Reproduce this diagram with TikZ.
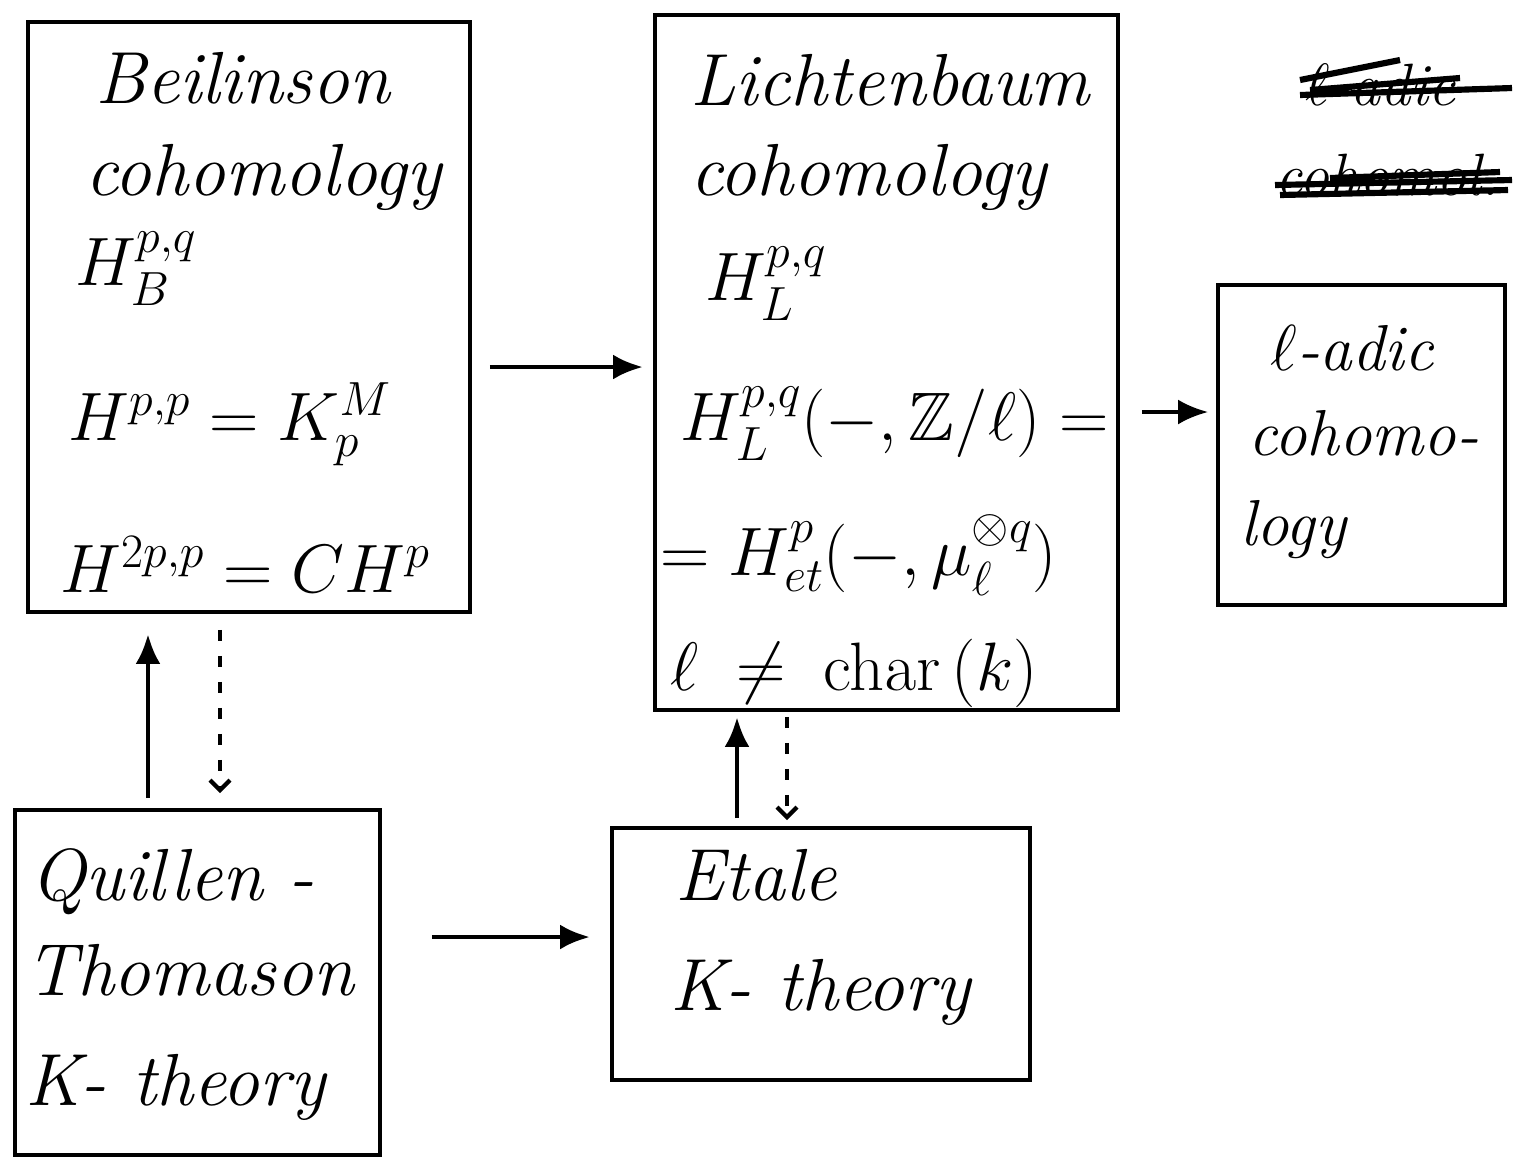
\RequirePackage{fix-cm}
\documentclass[tikz,border=0pt]{standalone}
\usepackage{amssymb}
\usetikzlibrary{fit,arrows.meta}
\newcommand{\hand}{\fontsize{42}{46}\selectfont\itshape}
\newcommand{\handmath}{\fontsize{39}{44}\selectfont}
\newcommand{\handsmall}{\fontsize{37}{42}\selectfont\itshape}
\begin{document}
\begin{tikzpicture}[x=0.02cm,y=-0.02cm,
  box/.style={draw,line width=2.2pt,inner sep=0pt},
  txt/.style={anchor=base west,inner sep=0pt,font=\hand},
  mtxt/.style={anchor=base west,inner sep=0pt,font=\handmath},
  stxt/.style={anchor=base west,inner sep=0pt,font=\handsmall},
  arr/.style={line width=2.8pt,-{Latex[length=0.6cm,width=0.5cm]}},
  darr/.style={line width=2.4pt,dash pattern=on 0.22cm off 0.3cm,-{Straight Barb[length=0.2cm,width=0.4cm]}}]
\useasboundingbox (0,0) rectangle (1520,1161);
% boxes
\node[box,fit={(28,22) (470,612)}] (beil) {};
\node[box,fit={(655,15) (1118,710)}] (lich) {};
\node[box,fit={(1218,285) (1505,605)}] (ladic) {};
\node[box,fit={(15,810) (380,1155)}] (qt) {};
\node[box,fit={(612,828) (1030,1080)}] (etk) {};
% Beilinson
\node[txt] (b1) at (95,103) {Beilinson};
\node[txt] (b2) at (85,195) {cohomology};
\node[mtxt] (b3) at (75,285) {$H^{p,q}_B$};
\node[mtxt] (b4) at (68,440) {$H^{p,p}=K^M_p$};
\node[mtxt] (b5) at (60,592) {$H^{2p,p}=CH^p$};
% Lichtenbaum
\node[txt] (l1) at (690,105) {Lichtenbaum};
\node[txt] (l2) at (690,195) {cohomology};
\node[mtxt] (l3) at (705,300) {$H^{p,q}_L$};
\node[mtxt] (l4) at (680,440) {$H^{p,q}_L(-,\mathbb{Z}/\ell)=$};
\node[mtxt] (l5) at (660,575) {$=H^p_{et}(-,\mu_\ell^{\otimes q})$};
\node[mtxt] (l6) at (670,690) {$\ell\;\neq\;\mathrm{char}\,(k)$};
% l-adic
\node[stxt] (a1) at (1270,370) {$\ell$-adic};
\node[stxt] (a2) at (1248,455) {cohomo-};
\node[stxt] (a3) at (1240,545) {logy};
% crossed out
\node[stxt,font=\fontsize{34}{40}\selectfont\itshape] (c1) at (1305,105) {$\ell$-adic};
\node[stxt,font=\fontsize{34}{40}\selectfont\itshape] (c2) at (1275,195) {cohomol.};
\draw[line width=3.5pt] (1300,95) -- (1512,88) (1300,80) -- (1400,60) (1310,90) -- (1460,78);
\draw[line width=3.5pt] (1275,185) -- (1512,180) (1280,195) -- (1508,190) (1330,178) -- (1500,172);
% K-theories
\node[txt] (q1) at (30,900) {Quillen -};
\node[txt] (q2) at (25,995) {Thomason};
\node[txt] (q3) at (25,1105) {K- theory};
\node[txt] (e1) at (675,900) {Etale};
\node[txt] (e2) at (670,1010) {K- theory};
% arrows
\draw[arr,shorten <=0.36cm,shorten >=0.2cm] (beil.east |- 0,367) -- (lich.west |- 0,367);
\draw[arr,line width=2.2pt,shorten <=0.44cm,shorten >=0.16cm] (lich.east |- 0,412) -- (ladic.west |- 0,412);
\draw[arr,shorten <=1cm,shorten >=0.4cm] (qt.east |- 0,937) -- (etk.west |- 0,937);
\draw[arr,shorten <=0.2cm,shorten >=0.4cm] (148,0 |- qt.north) -- (148,0 |- beil.south);
\draw[darr,shorten <=0.32cm,shorten >=0.3cm] (220,0 |- beil.south) -- (220,0 |- qt.north);
\draw[arr,shorten <=0.16cm,shorten >=0.1cm] (737,0 |- etk.north) -- (737,0 |- lich.south);
\draw[darr,shorten <=0.1cm,shorten >=0.12cm] (787,0 |- lich.south) -- (787,0 |- etk.north);
\end{tikzpicture}
\end{document}
